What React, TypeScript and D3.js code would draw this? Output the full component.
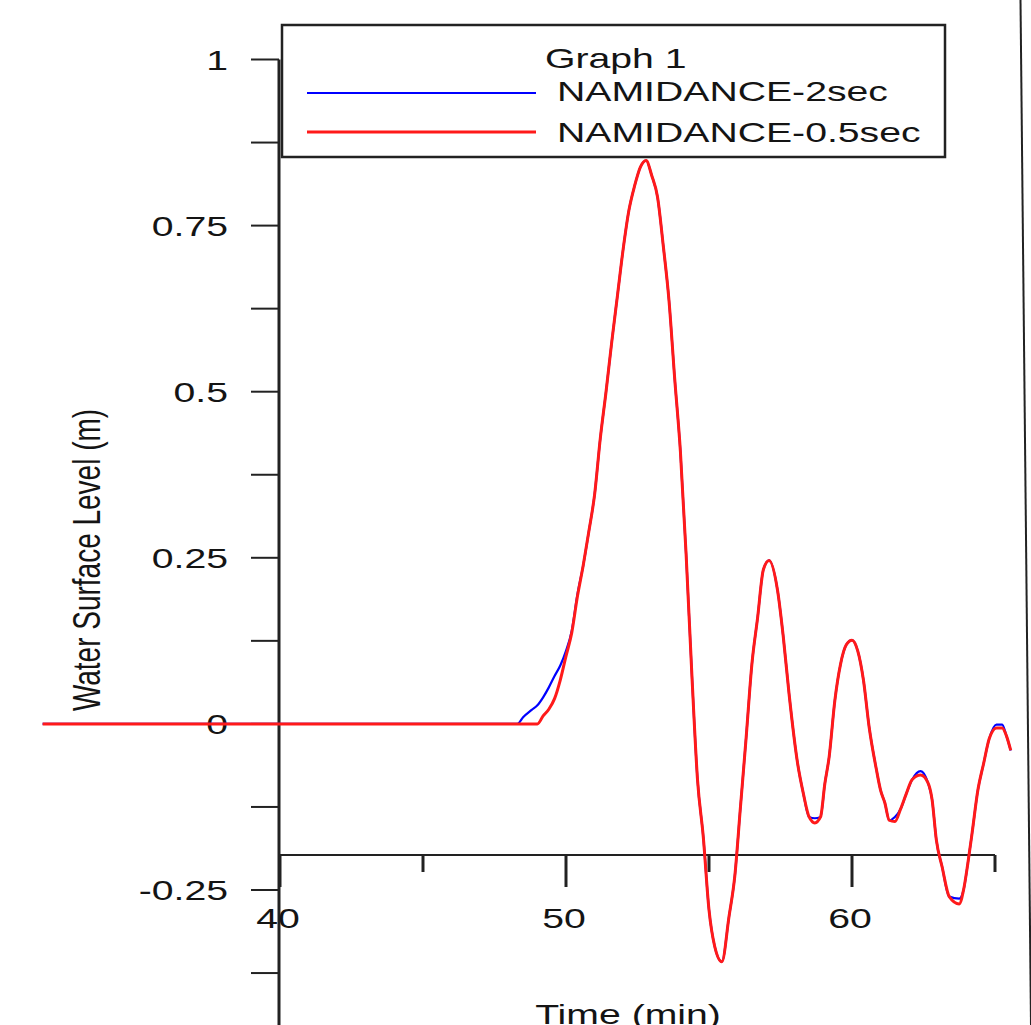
import React from "react";
import * as d3 from "d3";

// ---- data ----
const times = [31.7, 48.0, 48.3, 48.5, 48.8, 49.0, 49.2, 49.4, 49.6, 49.8, 50.0, 50.2, 50.4, 50.6, 50.8, 51.0, 51.2, 51.4, 51.6, 51.8, 52.0, 52.2, 52.4, 52.6, 52.8, 53.0, 53.2, 53.4, 53.6, 53.8, 54.0, 54.2, 54.4, 54.6, 54.8, 55.0, 55.2, 55.45, 55.7, 55.9, 56.1, 56.3, 56.5, 56.7, 56.9, 57.1, 57.4, 57.6, 57.8, 58.1, 58.3, 58.5, 58.7, 58.9, 59.05, 59.2, 59.4, 59.6, 59.8, 60.0, 60.2, 60.4, 60.6, 60.85, 61.0, 61.15, 61.3, 61.5, 61.7, 61.9, 62.1, 62.4, 62.65, 62.8, 62.95, 63.15, 63.4, 63.75, 63.9, 64.05, 64.2, 64.4, 64.6, 64.8, 65.05, 65.25, 65.4, 65.55];

const namidance05 = [0, 0, 0, 0, 0, 0, 0.012, 0.022, 0.038, 0.066, 0.102, 0.137, 0.192, 0.238, 0.29, 0.345, 0.43, 0.5, 0.575, 0.645, 0.715, 0.773, 0.81, 0.838, 0.848, 0.825, 0.793, 0.72, 0.638, 0.52, 0.41, 0.255, 0.075, -0.085, -0.17, -0.28, -0.335, -0.358, -0.29, -0.23, -0.125, -0.02, 0.09, 0.16, 0.232, 0.246, 0.2, 0.13, 0.045, -0.06, -0.105, -0.14, -0.149, -0.14, -0.09, -0.05, 0.035, 0.09, 0.119, 0.126, 0.11, 0.066, -0.005, -0.068, -0.1, -0.119, -0.145, -0.147, -0.128, -0.105, -0.084, -0.077, -0.088, -0.114, -0.175, -0.215, -0.26, -0.271, -0.25, -0.21, -0.164, -0.1, -0.06, -0.022, -0.006, -0.006, -0.018, -0.04];

const namidance2 = [0, 0, 0, 0.01, 0.021, 0.028, 0.04, 0.055, 0.072, 0.088, 0.11, 0.14, 0.195, 0.238, 0.29, 0.345, 0.43, 0.5, 0.575, 0.645, 0.715, 0.773, 0.81, 0.838, 0.848, 0.825, 0.793, 0.72, 0.638, 0.52, 0.41, 0.255, 0.075, -0.085, -0.17, -0.28, -0.335, -0.358, -0.29, -0.23, -0.125, -0.02, 0.09, 0.16, 0.232, 0.246, 0.2, 0.13, 0.045, -0.06, -0.105, -0.14, -0.142, -0.14, -0.09, -0.05, 0.035, 0.09, 0.119, 0.126, 0.11, 0.066, -0.005, -0.068, -0.1, -0.119, -0.145, -0.14, -0.128, -0.105, -0.084, -0.071, -0.088, -0.114, -0.175, -0.215, -0.26, -0.263, -0.25, -0.21, -0.164, -0.1, -0.06, -0.022, -0.001, -0.001, -0.018, -0.04];

const yLabelTicks = [-0.25, 0, 0.25, 0.5, 0.75, 1];
const yLabelTexts = ["-0.25", "0", "0.25", "0.5", "0.75", "1"];
const yAllTicks = [-0.375, -0.25, -0.125, 0, 0.125, 0.25, 0.375, 0.5, 0.625, 0.75, 0.875, 1];
const xMajorTicks = [40, 50, 60];
const xMinorTicks = [45, 55, 65];

const legendTitle = "Graph 1";
const seriesNames = ["NAMIDANCE-2sec", "NAMIDANCE-0.5sec"];
const seriesColors = ["#0000ff", "#ff1a1a"];

const FONT = "'Liberation Sans', Arial, Helvetica, sans-serif";
const SX = 1.4; // horizontal stretch of text in the reference

export default function App() {
  const x = d3.scaleLinear().domain([40, 65]).range([280, 995]);
  const y = d3.scaleLinear().domain([-0.25, 1]).range([890, 59.5]);

  const line = d3
    .line<number>()
    .x((_, i) => x(times[i]))
    .y((d) => y(d))
    .curve(d3.curveMonotoneX);

  const axisX = 279;
  const xAxisY = 855;
  const textColor = "#141414";

  return (
    <svg
      width={1031}
      height={1025}
      style={{ position: "absolute", left: 0, top: 0, background: "#fff" }}
    >
      <rect x={0} y={0} width={1031} height={1025} fill="#fff" />

      {/* y axis */}
      <line x1={axisX} x2={axisX} y1={y(1)} y2={y(-0.5)} stroke="#222" strokeWidth={3} />
      {yAllTicks.map((t) => (
        <line key={"yt" + t} x1={251} x2={axisX} y1={y(t)} y2={y(t)} stroke="#222" strokeWidth={2} />
      ))}
      {yLabelTicks.map((t, i) => (
        <text
          key={"yl" + t}
          transform={`translate(228,${y(t) + 10}) scale(${SX},1)`}
          textAnchor="end"
          fontFamily={FONT}
          fontSize={28}
          fill={textColor}
        >
          {yLabelTexts[i]}
        </text>
      ))}
      <text
        transform={`translate(100,560) scale(${SX},1) rotate(-90)`}
        textAnchor="middle"
        fontFamily={FONT}
        fontSize={28}
        fill={textColor}
      >
        Water Surface Level (m)
      </text>

      {/* x axis */}
      <line x1={axisX} x2={x(65)} y1={xAxisY} y2={xAxisY} stroke="#222" strokeWidth={2} />
      {xMajorTicks.map((t) => (
        <line key={"xM" + t} x1={x(t)} x2={x(t)} y1={xAxisY} y2={xAxisY + 32} stroke="#222" strokeWidth={3} />
      ))}
      {xMinorTicks.map((t) => (
        <line key={"xm" + t} x1={x(t)} x2={x(t)} y1={xAxisY} y2={xAxisY + 17} stroke="#222" strokeWidth={3} />
      ))}
      {xMajorTicks.map((t) => (
        <text
          key={"xl" + t}
          transform={`translate(${x(t) - 2},928) scale(${SX},1)`}
          textAnchor="middle"
          fontFamily={FONT}
          fontSize={28}
          fill={textColor}
        >
          {String(t)}
        </text>
      ))}
      <text
        transform={`translate(628,1024) scale(${SX},1)`}
        textAnchor="middle"
        fontFamily={FONT}
        fontSize={28}
        fill={textColor}
      >
        Time (min)
      </text>

      {/* series */}
      <path d={line(namidance2) || ""} fill="none" stroke={seriesColors[0]} strokeWidth={2.2} />
      <path d={line(namidance05) || ""} fill="none" stroke={seriesColors[1]} strokeWidth={3} />

      {/* legend */}
      <rect x={282} y={25} width={663} height={132} fill="#fff" stroke="#222" strokeWidth={2.5} />
      <text
        transform={`translate(545,68) scale(${SX},1)`}
        fontFamily={FONT}
        fontSize={28}
        fill={textColor}
      >
        {legendTitle}
      </text>
      {seriesNames.map((name, i) => (
        <g key={name}>
          <line
            x1={307}
            x2={536}
            y1={i === 0 ? 93 : 132}
            y2={i === 0 ? 93 : 132}
            stroke={seriesColors[i]}
            strokeWidth={i === 0 ? 2 : 3}
          />
          <text
            transform={`translate(557,${i === 0 ? 101 : 142}) scale(${SX},1)`}
            fontFamily={FONT}
            fontSize={28}
            fill={textColor}
          >
            {name}
          </text>
        </g>
      ))}

      {/* right image border */}
      <line x1={1020.5} y1={0} x2={1031} y2={1025} stroke="#222" strokeWidth={2} />
    </svg>
  );
}
